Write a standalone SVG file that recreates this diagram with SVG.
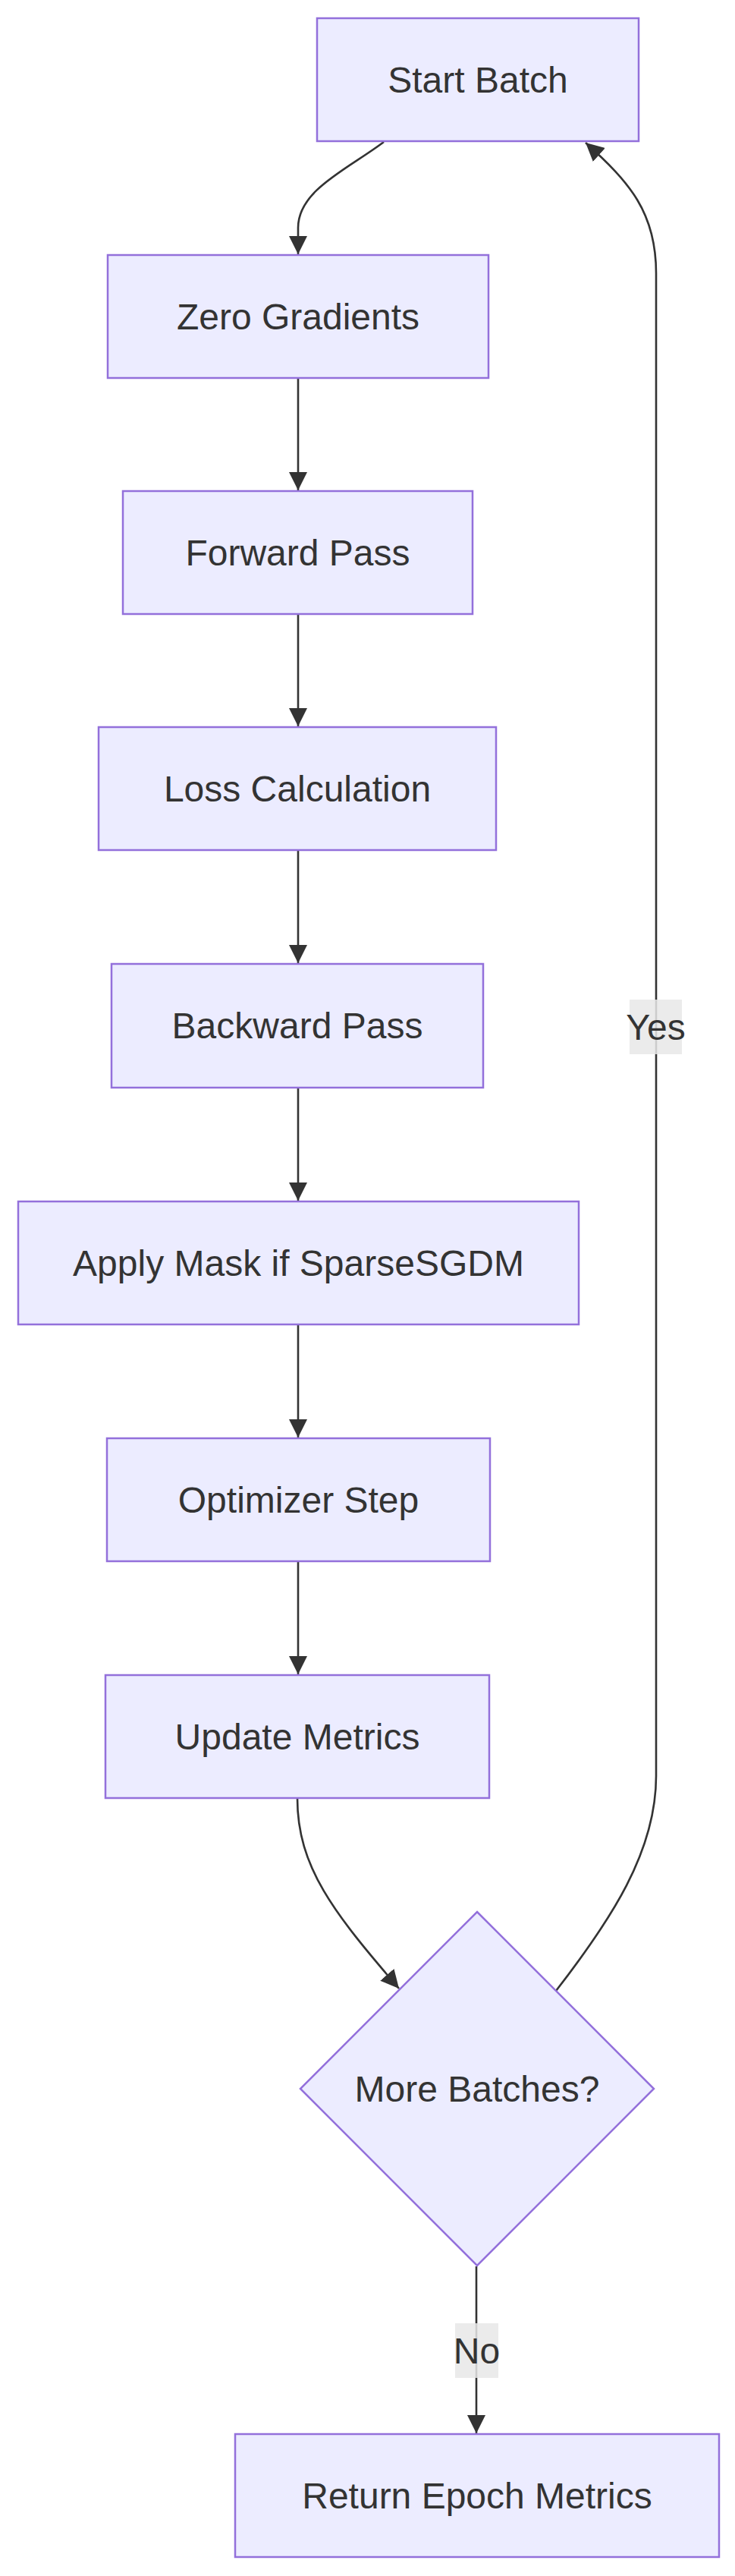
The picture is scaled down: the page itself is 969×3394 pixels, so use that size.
<svg xmlns="http://www.w3.org/2000/svg" width="969" height="3394" viewBox="0 0 969 3394">
<style>
.node rect,.node polygon{fill:#ECECFF;stroke:#9370DB;stroke-width:2.5}
.lbl{font-family:"Trebuchet MS","Liberation Sans",Arial,sans-serif;font-size:48px;fill:#333333;text-anchor:middle;dominant-baseline:central}
.edge{fill:none;stroke:#333333;stroke-width:2.6}
.elbg{fill:#E8E8E8;fill-opacity:0.85}
</style>
<defs>
<marker id="arr" viewBox="0 0 10 10" refX="10" refY="5" markerUnits="userSpaceOnUse" markerWidth="24" markerHeight="24" orient="auto">
<path d="M0,0 L10,5 L0,10 z" fill="#333333"/>
</marker>
</defs>
<rect width="969" height="3394" fill="#ffffff"/>
<g id="connectors">
<path class="edge" d="M506,187 C460,222 393,250 393,300 L393,335" marker-end="url(#arr)"/>
<path class="edge" d="M393,498 L393,646" marker-end="url(#arr)"/>
<path class="edge" d="M393,809 L393,957" marker-end="url(#arr)"/>
<path class="edge" d="M393,1120 L393,1269" marker-end="url(#arr)"/>
<path class="edge" d="M393,1433 L393,1582" marker-end="url(#arr)"/>
<path class="edge" d="M393,1745 L393,1894" marker-end="url(#arr)"/>
<path class="edge" d="M393,2057 L393,2206" marker-end="url(#arr)"/>
<path class="edge" d="M392,2369 C392,2460 440,2520 526,2620" marker-end="url(#arr)"/>
<path class="edge" d="M733,2623 C805,2530 865,2440 865,2340 L865,360 C865,280 830,240 772,188" marker-end="url(#arr)"/>
<path class="edge" d="M628,2986 L628,3206" marker-end="url(#arr)"/>
<g id="label-yes">
<rect class="elbg" x="830" y="1317" width="69" height="72"/>
<text class="lbl" x="864.5" y="1353">Yes</text>
</g>
<g id="label-no">
<rect class="elbg" x="600" y="3061" width="57" height="72"/>
<text class="lbl" x="628.5" y="3097">No</text>
</g>
</g>
<g id="start-batch" class="node"><rect x="418" y="24" width="424" height="162"/><text class="lbl" x="630" y="105">Start Batch</text></g>
<g id="zero-gradients" class="node"><rect x="142" y="336" width="502" height="162"/><text class="lbl" x="393" y="417">Zero Gradients</text></g>
<g id="forward-pass" class="node"><rect x="162" y="647" width="461" height="162"/><text class="lbl" x="392.5" y="728">Forward Pass</text></g>
<g id="loss-calculation" class="node"><rect x="130" y="958" width="524" height="162"/><text class="lbl" x="392" y="1039">Loss Calculation</text></g>
<g id="backward-pass" class="node"><rect x="147" y="1270" width="490" height="163"/><text class="lbl" x="392" y="1351">Backward Pass</text></g>
<g id="apply-mask" class="node"><rect x="24" y="1583" width="739" height="162"/><text class="lbl" x="393.5" y="1664">Apply Mask if SparseSGDM</text></g>
<g id="optimizer-step" class="node"><rect x="141" y="1895" width="505" height="162"/><text class="lbl" x="393.5" y="1976">Optimizer Step</text></g>
<g id="update-metrics" class="node"><rect x="139" y="2207" width="506" height="162"/><text class="lbl" x="392" y="2288">Update Metrics</text></g>
<g id="more-batches" class="node"><polygon points="629,2519 862,2752 629,2985 396,2752"/><text class="lbl" x="629" y="2752">More Batches?</text></g>
<g id="return-epoch-metrics" class="node"><rect x="310" y="3207" width="638" height="162"/><text class="lbl" x="629" y="3288">Return Epoch Metrics</text></g>
</svg>
